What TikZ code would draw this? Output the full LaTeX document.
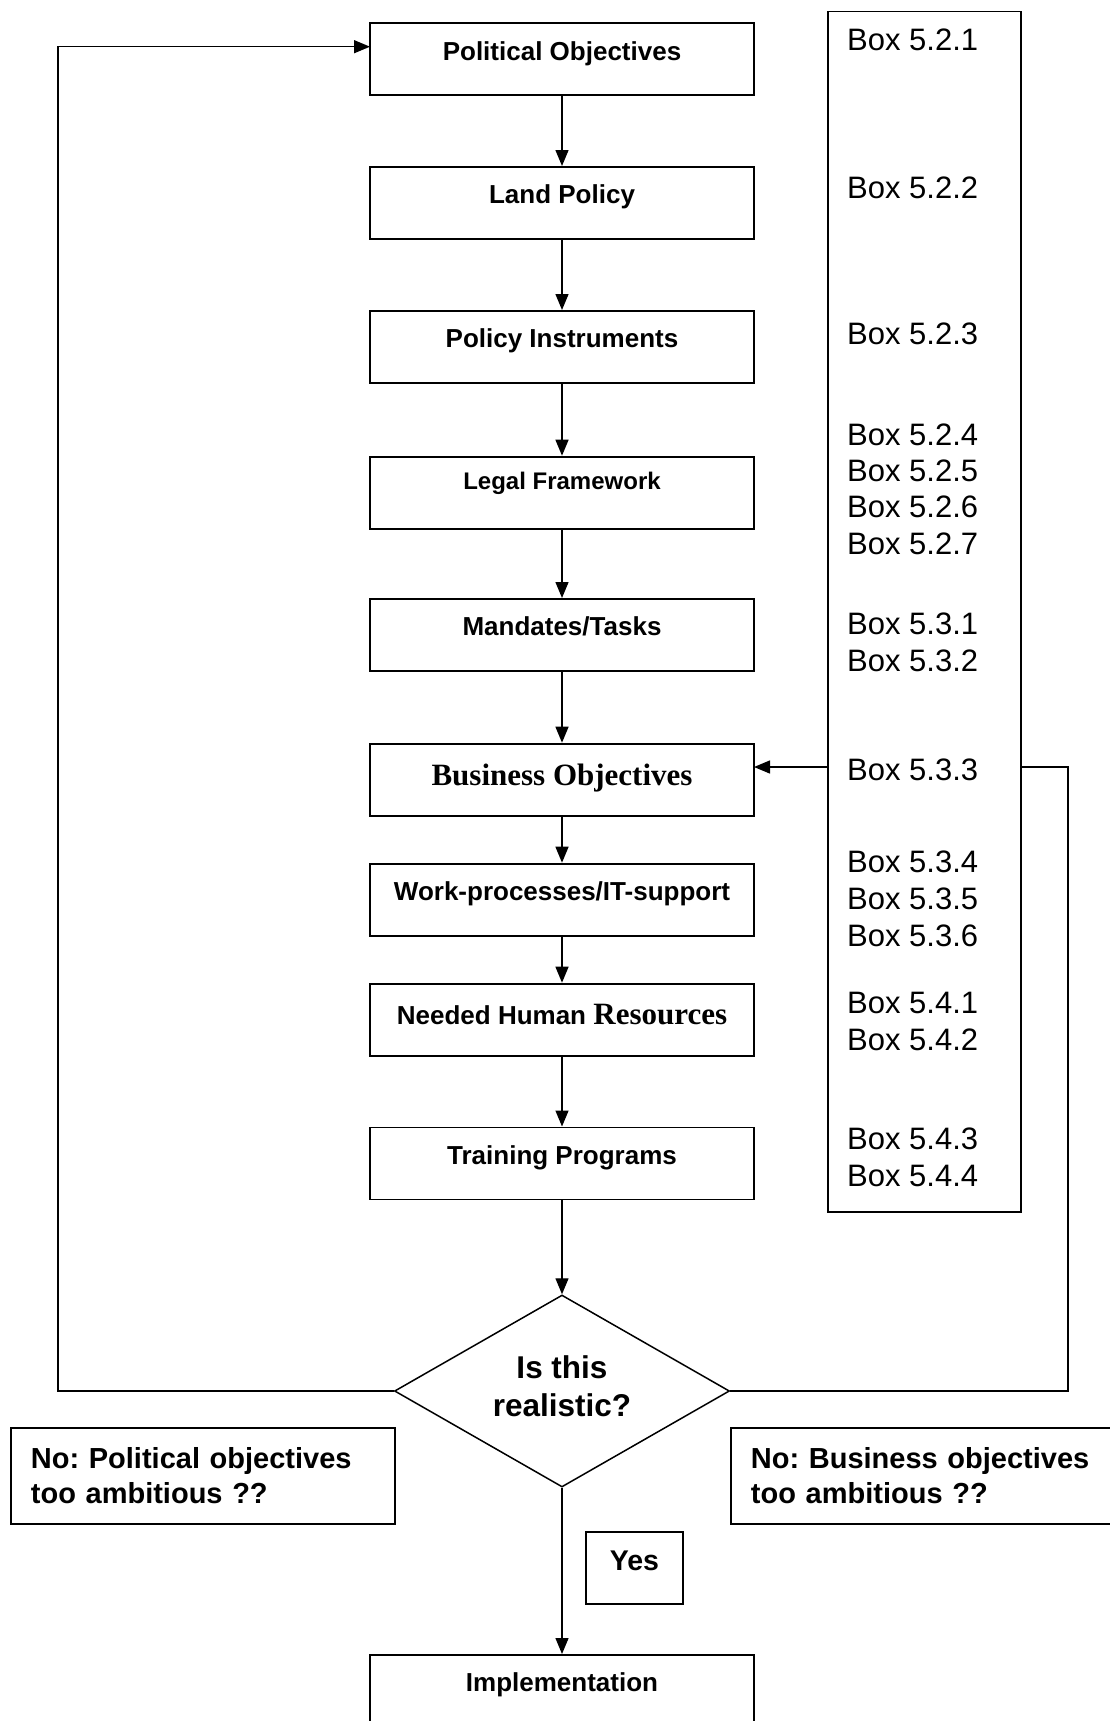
\documentclass[tikz,border=0pt]{standalone}
\usepackage{fontspec}
\setmainfont{Liberation Sans}
\newfontfamily\timesf{Liberation Serif}
\usetikzlibrary{arrows.meta,shapes.geometric}
\frenchspacing
\begin{document}
\begin{tikzpicture}[x=1pt,y=-1pt,
  mbox/.style={draw, line width=1.8pt, minimum width=384pt, inner xsep=0pt, inner ysep=0pt, anchor=north, font=\fontsize{26}{31}\selectfont\bfseries},
  conn/.style={line width=1.4pt},
  arr/.style={conn, -{Triangle[length=16pt,width=13pt]}},
  boxlbl/.style={anchor=base west, inner sep=0pt, font=\fontsize{31}{36}\selectfont},
  nobox/.style={draw, line width=1.8pt, anchor=north west, minimum height=96pt, inner xsep=20pt, inner ysep=0pt, align=left, font=\fontsize{29}{35}\selectfont\bfseries},
  qtext/.style={anchor=base, inner sep=0pt, font=\fontsize{31.5}{37}\selectfont\bfseries}
]
\useasboundingbox (0,0) rectangle (1109,1721);

% main column
\node[mbox, text height=37pt, text depth=35pt] (po) at (562,22.3) {Political Objectives};
\node[mbox, text height=37pt, text depth=35pt] (lp) at (562,166) {Land Policy};
\node[mbox, text height=37pt, text depth=35pt] (pi) at (562,310) {Policy Instruments};
\node[mbox, text height=32.7pt, text depth=39.3pt, font=\fontsize{24}{29}\selectfont\bfseries] (lf) at (562,455.7) {Legal Framework};
\node[mbox, text height=37pt, text depth=35pt] (mt) at (562,598) {Mandates/Tasks};
\node[mbox, text height=42.3pt, text depth=29.7pt, font=\fontsize{31}{36}\timesf\bfseries] (bo) at (562,742.7) {Business Objectives};
\node[mbox, text height=37pt, text depth=35pt] (wp) at (562,862.7) {Work-processes/IT-support};
\node[mbox, text height=40.6pt, text depth=31.4pt] (nh) at (562,982.7) {Needed Human {\timesf\fontsize{31}{36}\selectfont Resources}};
\node[mbox, text height=37pt, text depth=35pt] (tp) at (562,1126.5) {Training Programs};
\node[diamond, draw, line width=1.5pt, minimum width=335pt, minimum height=192pt, inner sep=0pt] (dia) at (562,1391) {};
\node[qtext] (q1) at (562,1378) {Is this};
\node[qtext] (q2) at (562,1416) {realistic?};
\node[mbox, text height=37pt, text depth=110pt] (im) at (562,1654) {Implementation};

% side boxes
\node[nobox, minimum width=384pt, text width=344pt] (nol) at (10,1426.7) {No: Political objectives\\too ambitious ??};
\node[nobox, minimum width=420pt, text width=380pt] (nor) at (730,1426.7) {No: Business objectives\\too ambitious ??};
\node[draw, line width=1.8pt, anchor=north, minimum width=97pt, inner xsep=0pt, inner ysep=0pt, text height=39.3pt, text depth=32.7pt, font=\fontsize{28.5}{34}\selectfont\bfseries] (yes) at (634.5,1530.7) {Yes};

% box column
\node[draw, line width=1.6pt, anchor=north west, minimum width=193pt, minimum height=1200.3pt, inner sep=0pt] (col) at (827,10.7) {};
\foreach \yy/\tt [count=\i] in {50.7/5.2.1, 198/5.2.2, 344/5.2.3, 445/5.2.4, 481/5.2.5, 517/5.2.6, 554/5.2.7, 634.5/5.3.1, 671/5.3.2, 780/5.3.3, 872.5/5.3.4, 909/5.3.5, 946/5.3.6, 1013/5.4.1, 1050/5.4.2, 1149.5/5.4.3, 1186/5.4.4}
  \node[boxlbl] (bl\i) at (847,\yy) {Box \tt};

% connectors
\draw[arr] (po.south) -- (lp.north);
\draw[arr] (lp.south) -- (pi.north);
\draw[arr] (pi.south) -- (lf.north);
\draw[arr] (lf.south) -- (mt.north);
\draw[arr] (mt.south) -- (bo.north);
\draw[arr] (bo.south) -- (wp.north);
\draw[arr] (wp.south) -- (nh.north);
\draw[arr] (nh.south) -- (tp.north);
\draw[arr] (tp.south) -- (dia.north);
\draw[arr] (dia.south) -- (im.north);

% left loop
\coordinate (lc) at (58,1391);
\coordinate (poin) at (370,46.7);
\draw[arr] (dia.west) -- (lc) |- (poin);

% right loop
\coordinate (rc) at (1068,1391);
\coordinate (colr) at (1020,767);
\coordinate (coll) at (827,767);
\coordinate (boin) at (754,767);
\draw[conn] (dia.east) -- (rc) |- (colr);
\draw[arr] (coll) -- (boin);
\end{tikzpicture}
\end{document}
